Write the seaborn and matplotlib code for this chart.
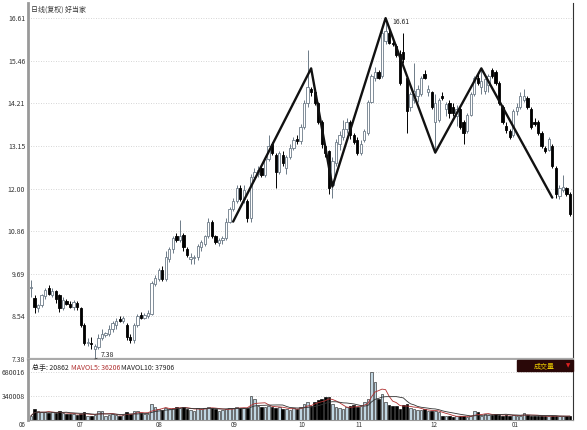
import numpy as np
import pandas as pd
import matplotlib
matplotlib.use("Agg")
import matplotlib.pyplot as plt
import seaborn as sns

# 日线数据 (复权), one entry per trading day
opens = [9.30, 9.02, 8.75, 8.85, 9.08, 9.30, 9.10, 9.22, 9.10, 8.75,
         8.95, 8.88, 8.78, 8.90, 8.75, 8.30, 7.80, 7.80, 7.65, 7.70,
         7.95, 8.02, 8.05, 8.18, 8.30, 8.45, 8.40, 8.30, 7.98, 7.90,
         8.30, 8.58, 8.50, 8.55, 8.60, 9.40, 9.55, 9.80, 9.55, 10.10,
         10.35, 10.70, 10.60, 10.75, 10.35, 10.10, 10.12, 10.15, 10.40, 10.50,
         10.70, 11.10, 10.70, 10.52, 10.60, 10.65, 11.10, 11.45, 11.65, 12.00,
         11.70, 11.65, 11.20, 12.30, 12.40, 12.55, 12.35, 12.80, 13.20, 12.90,
         12.45, 12.90, 12.55, 12.85, 13.10, 13.35, 13.28, 13.65, 14.30, 14.68,
         14.60, 14.30, 13.80, 13.15, 13.00, 12.10, 12.70, 13.20, 13.40, 13.60,
         13.80, 13.45, 13.30, 12.95, 13.30, 13.50, 14.35, 15.00, 15.15, 15.05,
         16.00, 16.20, 15.95, 15.85, 15.65, 15.70, 15.00, 14.20, 14.40, 14.50,
         14.55, 15.10, 14.60, 14.60, 13.80, 13.85, 14.50, 14.15, 14.30, 14.20,
         13.95, 14.15, 13.80, 13.55, 14.00, 14.55, 14.98, 14.75, 14.65, 14.80,
         15.20, 15.15, 14.85, 14.20, 13.70, 13.55, 13.45, 14.10, 14.20, 14.40,
         14.45, 14.15, 13.80, 13.80, 13.50, 13.10, 13.05, 13.15, 12.55, 11.80,
         11.95, 12.00, 11.85]
highs = [9.52, 9.10, 8.88, 9.15, 9.30, 9.38, 9.30, 9.25, 9.15, 9.05,
         9.00, 8.95, 8.98, 8.95, 8.80, 8.35, 7.95, 7.98, 7.78, 8.05,
         8.20, 8.12, 8.30, 8.40, 8.50, 8.55, 8.55, 8.35, 8.05, 8.35,
         8.60, 8.65, 8.62, 8.70, 9.50, 9.65, 9.85, 9.90, 10.30, 10.40,
         10.70, 10.80, 11.15, 10.80, 10.40, 10.25, 10.20, 10.50, 10.60, 10.75,
         11.20, 11.15, 10.75, 10.65, 10.70, 11.20, 11.50, 11.75, 12.10, 12.10,
         12.10, 11.70, 12.40, 12.55, 12.60, 12.60, 12.85, 13.45, 13.25, 12.95,
         13.00, 13.00, 12.90, 13.20, 13.40, 13.45, 13.75, 14.40, 15.75, 14.75,
         14.65, 14.35, 13.85, 13.20, 13.05, 12.85, 13.35, 13.55, 13.85, 13.90,
         13.85, 13.50, 13.40, 13.30, 13.60, 14.40, 15.10, 15.30, 15.20, 16.30,
         16.61, 16.30, 16.00, 15.90, 15.75, 16.20, 15.05, 14.60, 15.40, 14.80,
         15.05, 15.20, 14.80, 14.65, 14.55, 14.45, 14.60, 14.35, 14.40, 14.30,
         14.25, 14.20, 13.85, 14.05, 14.60, 15.05, 15.10, 15.25, 15.00, 15.10,
         15.25, 15.20, 14.90, 14.25, 13.80, 13.60, 14.15, 14.30, 14.60, 14.70,
         14.50, 14.20, 13.90, 13.85, 13.55, 13.15, 13.40, 13.20, 12.60, 12.10,
         12.35, 12.05, 11.90]
lows = [9.05, 8.62, 8.65, 8.80, 9.00, 9.10, 9.05, 8.90, 8.65, 8.70,
        8.85, 8.75, 8.72, 8.72, 8.25, 7.75, 7.72, 7.65, 7.38, 7.65,
        7.90, 7.98, 8.00, 8.10, 8.20, 8.38, 8.35, 7.90, 7.82, 7.82,
        8.25, 8.45, 8.45, 8.50, 8.58, 9.35, 9.50, 9.50, 9.50, 10.00,
        10.25, 10.55, 10.55, 10.30, 10.15, 9.95, 9.95, 10.05, 10.30, 10.45,
        10.65, 10.65, 10.50, 10.45, 10.50, 10.60, 11.05, 11.40, 11.60, 11.65,
        11.60, 11.10, 11.10, 12.20, 12.30, 12.30, 12.30, 12.75, 12.90, 12.00,
        12.40, 12.60, 12.40, 12.80, 13.05, 13.20, 13.20, 13.60, 14.20, 14.50,
        14.25, 13.75, 13.10, 12.85, 11.85, 11.75, 12.60, 13.05, 13.30, 13.50,
        13.35, 13.20, 12.90, 12.90, 13.25, 13.45, 14.30, 14.90, 14.95, 15.00,
        15.90, 15.90, 15.85, 15.55, 14.80, 15.40, 13.50, 14.10, 14.30, 14.35,
        14.50, 14.95, 14.50, 14.15, 12.97, 13.80, 14.40, 13.95, 13.90, 13.95,
        13.70, 13.60, 13.20, 13.50, 13.95, 14.50, 14.80, 14.55, 14.55, 14.60,
        15.00, 14.80, 14.25, 13.75, 13.50, 13.35, 13.40, 14.00, 14.15, 14.35,
        14.15, 13.60, 13.70, 13.45, 13.10, 12.95, 13.00, 12.55, 11.75, 11.70,
        11.90, 11.80, 11.25]
closes = [9.31, 8.78, 8.83, 9.10, 9.25, 9.15, 9.22, 9.00, 8.75, 8.98,
          8.88, 8.80, 8.92, 8.78, 8.30, 7.80, 7.85, 7.79, 7.72, 7.95,
          8.05, 8.08, 8.20, 8.35, 8.42, 8.40, 8.50, 7.97, 7.90, 8.30,
          8.55, 8.50, 8.57, 8.62, 9.45, 9.58, 9.78, 9.55, 10.15, 10.35,
          10.65, 10.60, 10.70, 10.40, 10.20, 10.15, 10.12, 10.45, 10.55, 10.70,
          11.10, 10.72, 10.55, 10.60, 10.65, 11.10, 11.45, 11.65, 12.00, 11.70,
          11.95, 11.20, 12.30, 12.45, 12.50, 12.35, 12.80, 13.15, 12.95, 12.45,
          12.95, 12.70, 12.85, 13.10, 13.30, 13.28, 13.65, 14.30, 14.75, 14.60,
          14.30, 13.80, 13.20, 12.95, 12.00, 12.75, 13.25, 13.45, 13.60, 13.80,
          13.45, 13.25, 12.95, 13.20, 13.55, 14.35, 15.05, 15.15, 15.00, 16.20,
          16.25, 15.95, 15.90, 15.60, 14.85, 15.50, 14.10, 14.55, 14.65, 14.70,
          15.00, 15.00, 14.70, 14.20, 14.30, 14.40, 14.45, 14.28, 14.05, 14.05,
          14.15, 13.65, 13.50, 14.00, 14.55, 14.98, 14.85, 14.90, 14.95, 15.05,
          15.05, 14.85, 14.30, 13.80, 13.57, 13.40, 14.10, 14.20, 14.50, 14.50,
          14.20, 13.65, 13.75, 13.50, 13.15, 13.00, 13.35, 12.60, 11.85, 12.00,
          12.05, 11.85, 11.30]
# 成交量 (thousands)
volume_k = [60, 150, 120, 110, 115, 100, 110, 95, 120, 95,
            85, 80, 90, 75, 90, 110, 60, 55, 70, 130,
            120, 60, 70, 80, 75, 60, 70, 110, 80, 120,
            125, 100, 80, 90, 230, 190, 150, 140, 170, 160,
            175, 180, 175, 185, 150, 140, 130, 170, 160, 175,
            185, 170, 150, 130, 140, 160, 175, 170, 180, 165,
            175, 170, 340, 300, 200, 190, 185, 200, 190, 170,
            180, 160, 150, 140, 170, 150, 190, 230, 250, 200,
            260, 280, 300, 320, 330, 220, 180, 170, 160, 180,
            200, 210, 190, 200, 250, 300, 680, 540, 300, 360,
            260, 210, 200, 200, 160, 210, 220, 170, 150, 140,
            140, 150, 130, 120, 130, 110, 60, 50, 55, 45,
            50, 60, 55, 45, 50, 120, 110, 60, 90, 70,
            65, 90, 70, 60, 75, 60, 70, 55, 60, 100,
            70, 60, 55, 50, 60, 55, 50, 60, 55, 50,
            55, 50, 60]

# zigzag turning points (bar index, price)
zz_idx = [57, 79, 85, 100, 114, 127, 147]
zz_price = [11.10, 15.25, 12.05, 16.61, 12.97, 15.25, 11.75]

month_labels = ["06", "07", "08", "09", "10", "11", "12", "01"]
month_pos = [-2.4, 13.9, 36.2, 57.3, 76.5, 92.5, 113.7, 136.5]
ytick_labels = ["7.38", "8.54", "9.69", "10.86", "12.00", "13.15", "14.21", "15.46", "16.61"]
vol_ticks = [340008, 680016]

df = pd.DataFrame({"open": opens, "high": highs, "low": lows, "close": closes,
                   "vol": np.array(volume_k) * 1000})
df["i"] = np.arange(len(df))
df["up"] = df["close"] >= df["open"]
df["ma5"] = df["vol"].rolling(5, min_periods=1).mean()
df["ma10"] = df["vol"].rolling(10, min_periods=1).mean()

sns.set_style("white")
plt.rcParams["font.family"] = ["Noto Sans CJK SC", "DejaVu Sans"]

fig = plt.figure(figsize=(5.87, 4.30), dpi=100)
ax = fig.add_axes([28/587, 71/430, 545/587, 356/430])
axv = fig.add_axes([28/587, 10/430, 545/587, 60/430])

up_edge = "#6d7b88"
n = len(df)
xl = (-0.85, n - 1 + 0.85)

# candles
u = df[df["up"]]
d = df[~df["up"]]
ax.vlines(u["i"], u["low"], u["high"], color=up_edge, lw=0.7, zorder=2)
ax.vlines(d["i"], d["low"], d["high"], color="black", lw=0.7, zorder=2)
ax.bar(u["i"], np.maximum(u["close"] - u["open"], 0.02), bottom=u["open"], width=0.65,
       color="white", edgecolor=up_edge, linewidth=0.6, zorder=3)
ax.bar(d["i"], np.maximum(d["open"] - d["close"], 0.02), bottom=d["close"], width=0.65,
       color="black", edgecolor="black", linewidth=0.6, zorder=3)

sns.lineplot(x=zz_idx, y=zz_price, ax=ax, color="#111111", lw=1.7, zorder=4)

ax.annotate("16.61", xy=(100, 16.61), xytext=(102, 16.50), fontsize=5, color="#222",
            arrowprops=dict(arrowstyle="-", lw=0.5, color="#222"), va="center")
ax.annotate("7.38", xy=(18, 7.38), xytext=(19.6, 7.50), fontsize=5, color="#222",
            arrowprops=dict(arrowstyle="-", lw=0.5, color="#222"), va="center")
ax.text(0.0, 16.83, "日线(复权) 好当家", fontsize=5, color="#333", va="center")

yt = np.linspace(7.38, 16.61, 9)
ax.set_yticks(yt)
ax.set_yticklabels(ytick_labels)
ax.set_ylim(7.38, 17.02)
ax.set_xlim(*xl)
ax.set_xticks([])
ax.grid(axis="y", linestyle=(0, (1, 2)), color="#c8c8c8", lw=0.6)
ax.tick_params(axis="y", length=0, pad=2, labelsize=5, labelcolor="#333")

# volume
vu = df[df["up"]]
vd = df[~df["up"]]
axv.bar(vu["i"], vu["vol"], width=0.72, color="#c0d6e2", edgecolor="#2a2a2a", linewidth=0.45)
axv.bar(vd["i"], vd["vol"], width=0.72, color="black", edgecolor="black", linewidth=0.45)
sns.lineplot(data=df, x="i", y="ma5", ax=axv, color="#b03030", lw=0.6)
sns.lineplot(data=df, x="i", y="ma10", ax=axv, color="#333333", lw=0.6)
axv.set_xlim(*xl)
axv.set_ylim(0, 846550)
axv.set_yticks(vol_ticks)
axv.set_yticklabels([str(v) for v in vol_ticks])
axv.set_xticks([])
axv.set_xlabel("")
axv.set_ylabel("")
ax.set_xlabel("")
ax.set_ylabel("")
axv.grid(axis="y", linestyle=(0, (1, 2)), color="#c8c8c8", lw=0.6)
axv.tick_params(axis="y", length=0, pad=2, labelsize=5, labelcolor="#333")

for lab, p in zip(month_labels, month_pos):
    axv.text(p, -0.01, lab, transform=axv.get_xaxis_transform(), fontsize=4.5,
             color="#333", ha="center", va="top", clip_on=False)

# 总手 / MAVOL header
hy = 0.86
t1 = axv.text(0.4, hy, "总手: 20862 ", transform=axv.get_xaxis_transform(),
              fontsize=5, color="#222", va="center")
fig.canvas.draw()
bb = t1.get_window_extent()
inv = axv.transData.inverted()
x2 = inv.transform((bb.x1, bb.y0))[0]
t2 = axv.text(x2, hy, "MAVOL5: 36206 ", transform=axv.get_xaxis_transform(),
              fontsize=5, color="#b03030", va="center")
fig.canvas.draw()
x3 = inv.transform((t2.get_window_extent().x1, bb.y0))[0]
axv.text(x3, hy, "MAVOL10: 37906", transform=axv.get_xaxis_transform(),
         fontsize=5, color="#222", va="center")

# 成交量 box
fig.patches.append(plt.Rectangle((517/587, (430-371)/430), 56/587, 11/430,
                                 transform=fig.transFigure, color="#2a0808", zorder=5))
fig.text(544/587, (430-366)/430, "成交量", fontsize=5, color="#e8c800",
         ha="center", va="center", zorder=6)
fig.text(568/587, (430-366)/430, "▼", fontsize=4, color="#e02020",
         ha="center", va="center", zorder=6, family="DejaVu Sans")

for a in (ax, axv):
    a.spines["left"].set_color("#999999")
    a.spines["left"].set_linewidth(2)
    a.spines["right"].set_color("#333333")
    a.spines["right"].set_linewidth(0.8)
ax.spines["top"].set_visible(False)
ax.spines["bottom"].set_color("#aaaaaa")
ax.spines["bottom"].set_linewidth(1.6)
axv.spines["top"].set_visible(False)
axv.spines["bottom"].set_color("#999999")
axv.spines["bottom"].set_linewidth(0.8)

fig.savefig("out.png", dpi=100)
